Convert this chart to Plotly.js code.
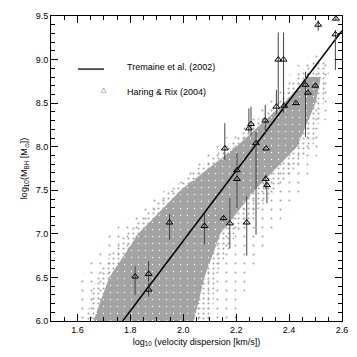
<!DOCTYPE html>
<html>
<head>
<meta charset="utf-8">
<script src="https://cdn.plot.ly/plotly-3.0.1.min.js"></script>
<style>
  html, body { margin: 0; padding: 0; background: #fff; }
  #plot { width: 357px; height: 357px; }
</style>
</head>
<body>
<div id="plot"></div>
<script>
// Haring & Rix (2004) points, log sigma vs log M_BH, with error bars
let hrX = [1.818, 1.869, 1.869, 1.948, 2.080, 2.152, 2.176, 2.240, 2.157, 2.203,
           2.203, 2.248, 2.256, 2.275, 2.310, 2.313, 2.312, 2.316, 2.359, 2.379,
           2.352, 2.382, 2.426, 2.462, 2.471, 2.499, 2.510, 2.577, 2.575]
let hrY = [6.51, 6.54, 6.36, 7.13, 7.09, 7.18, 7.12, 7.13, 7.98, 7.73,
           7.63, 8.21, 8.26, 8.04, 8.30, 7.98, 7.63, 7.56, 9.00, 9.00,
           8.46, 8.47, 8.50, 8.71, 8.62, 8.70, 9.40, 9.47, 9.29]
let hrErrUp = [0.12, 0.15, 0.08, 0.10, 0.14, 0.03, 0.29, 0.30, 0.29, 0.20,
               0.02, 0.23, 0.20, 0.13, 0.18, 0.00, 0.05, 0.04, 0.31, 0.31,
               0.19, 0.02, 0.02, 0.15, 0.02, 0.02, 0.05, 0.02, 0.05]
let hrErrDown = [0.21, 0.09, 0.08, 0.20, 0.21, 0.03, 0.29, 0.38, 0.13, 0.08,
                 0.34, 0.05, 0.13, 1.05, 0.16, 0.00, 0.12, 0.21, 0.54, 0.61,
                 0.09, 0.02, 0.02, 0.60, 0.02, 0.02, 0.07, 0.02, 0.41]

// Tremaine et al. (2002) relation, two end points
let tremaineX = [1.771, 2.6]
let tremaineY = [6.0, 9.33]

// outline of the simulated cloud, by log M level
let coreY = [5.9, 6.0, 6.5, 7.0, 7.5, 8.0, 8.5, 8.8]
let coreLeft = [1.65, 1.66, 1.72, 1.83, 1.99, 2.20, 2.38, 2.47]
let coreRight = [2.05, 2.04, 2.08, 2.14, 2.27, 2.43, 2.50, 2.52]

let midY = [5.9, 6.0, 6.5, 7.0, 7.5, 8.0, 8.5, 8.85, 9.0]
let midLeft = [1.62, 1.63, 1.67, 1.78, 1.95, 2.16, 2.35, 2.44, 2.50]
let midRight = [2.12, 2.11, 2.12, 2.20, 2.35, 2.49, 2.53, 2.55, 2.53]

let haloY = [5.9, 6.0, 6.5, 7.0, 7.5, 8.0, 8.5, 8.9, 9.1]
let haloLeft = [1.58, 1.59, 1.61, 1.72, 1.93, 2.12, 2.32, 2.42, 2.50]
let haloRight = [2.20, 2.20, 2.25, 2.33, 2.45, 2.52, 2.55, 2.55, 2.52]

let cloudGray = '#a3a3a3'

// closed outline from left and right edges
function band(ys, left, right) {
    let xs = left.concat(right.slice().reverse())
    let yy = ys.concat(ys.slice().reverse())
    return {x: xs, y: yy}
}

let halo = band(haloY, haloLeft, haloRight)
let mid = band(midY, midLeft, midRight)
let core = band(coreY, coreLeft, coreRight)

let haloTrace = {
    x: halo.x, y: halo.y, type: 'scatter', mode: 'lines', fill: 'toself',
    line: {width: 0, color: 'rgba(0,0,0,0)'},
    fillcolor: 'rgba(0,0,0,0)',
    fillpattern: {shape: '.', fgcolor: cloudGray, bgcolor: 'rgba(0,0,0,0)', size: 9, solidity: 0.04},
    hoverinfo: 'skip', showlegend: false
}

let midTrace = {
    x: mid.x, y: mid.y, type: 'scatter', mode: 'lines', fill: 'toself',
    line: {width: 0, color: 'rgba(0,0,0,0)'},
    fillcolor: 'rgba(0,0,0,0)',
    fillpattern: {shape: '.', fgcolor: cloudGray, bgcolor: 'rgba(0,0,0,0)', size: 5, solidity: 0.14},
    hoverinfo: 'skip', showlegend: false
}

let coreTrace = {
    x: core.x, y: core.y, type: 'scatter', mode: 'lines', fill: 'toself',
    line: {width: 0, color: 'rgba(0,0,0,0)'},
    fillcolor: cloudGray,
    fillpattern: {shape: '.', fgcolor: '#ffffff', bgcolor: cloudGray, size: 7, solidity: 0.03},
    hoverinfo: 'skip', showlegend: false
}

let tremaineTrace = {
    x: tremaineX, y: tremaineY, type: 'scatter', mode: 'lines',
    line: {color: '#000000', width: 1.5},
    showlegend: false
}

let hrTrace = {
    x: hrX, y: hrY, type: 'scatter', mode: 'markers',
    marker: {symbol: 'triangle-up-open', size: 6, color: '#000000', line: {width: 1}},
    error_y: {type: 'data', symmetric: false, array: hrErrUp, arrayminus: hrErrDown,
              thickness: 1, width: 0, color: '#444444'},
    showlegend: false
}

let tickFont = {family: 'Liberation Sans, Arial, sans-serif', size: 9, color: '#000'}

let layout = {
    width: 357,
    height: 357,
    margin: {l: 51, r: 15, t: 16, b: 36},
    paper_bgcolor: '#ffffff',
    plot_bgcolor: '#ffffff',
    font: tickFont,
    showlegend: false,
    xaxis: {
        range: [1.5, 2.6],
        tickvals: [1.6, 1.8, 2.0, 2.2, 2.4, 2.6],
        tickformat: '.1f',
        ticks: 'inside', ticklen: 7, tickwidth: 1, tickcolor: '#000',
        minor: {dtick: 0.05, ticks: 'inside', ticklen: 4, tickwidth: 1, tickcolor: '#000'},
        showline: true, linecolor: '#000', linewidth: 1, mirror: 'ticks',
        showgrid: false, zeroline: false,
        tickfont: tickFont,
        title: {text: 'log<sub>10</sub> (velocity dispersion [km/s])', font: tickFont, standoff: 4}
    },
    yaxis: {
        range: [6.0, 9.5],
        tickvals: [6.0, 6.5, 7.0, 7.5, 8.0, 8.5, 9.0, 9.5],
        tickformat: '.1f',
        ticks: 'inside', ticklen: 7, tickwidth: 1, tickcolor: '#000',
        minor: {dtick: 0.1, ticks: 'inside', ticklen: 4, tickwidth: 1, tickcolor: '#000'},
        showline: true, linecolor: '#000', linewidth: 1, mirror: 'ticks',
        showgrid: false, zeroline: false,
        tickfont: tickFont,
        title: {text: 'log<sub>10</sub>(M<sub>BH</sub> [M<sub>\u2299</sub>])', font: tickFont, standoff: 6}
    },
    shapes: [
        {type: 'line', xref: 'paper', yref: 'paper', x0: 0.093, x1: 0.182, y0: 0.826, y1: 0.826,
         line: {color: '#555555', width: 2}}
    ],
    annotations: [
        {xref: 'paper', yref: 'paper', x: 0.254, y: 0.832, xanchor: 'left', yanchor: 'middle',
         text: 'Tremaine et al. (2002)', showarrow: false, font: tickFont},
        {xref: 'paper', yref: 'paper', x: 0.181, y: 0.757, xanchor: 'center', yanchor: 'middle',
         text: '\u25B3', showarrow: false, font: {family: 'DejaVu Sans', size: 7, color: '#444'}},
        {xref: 'paper', yref: 'paper', x: 0.254, y: 0.752, xanchor: 'left', yanchor: 'middle',
         text: 'Haring &amp; Rix (2004)', showarrow: false, font: tickFont}
    ]
}

let traceData = [haloTrace, midTrace, coreTrace, tremaineTrace, hrTrace]

Plotly.newPlot('plot', traceData, layout, {displayModeBar: false})
</script>
</body>
</html>
